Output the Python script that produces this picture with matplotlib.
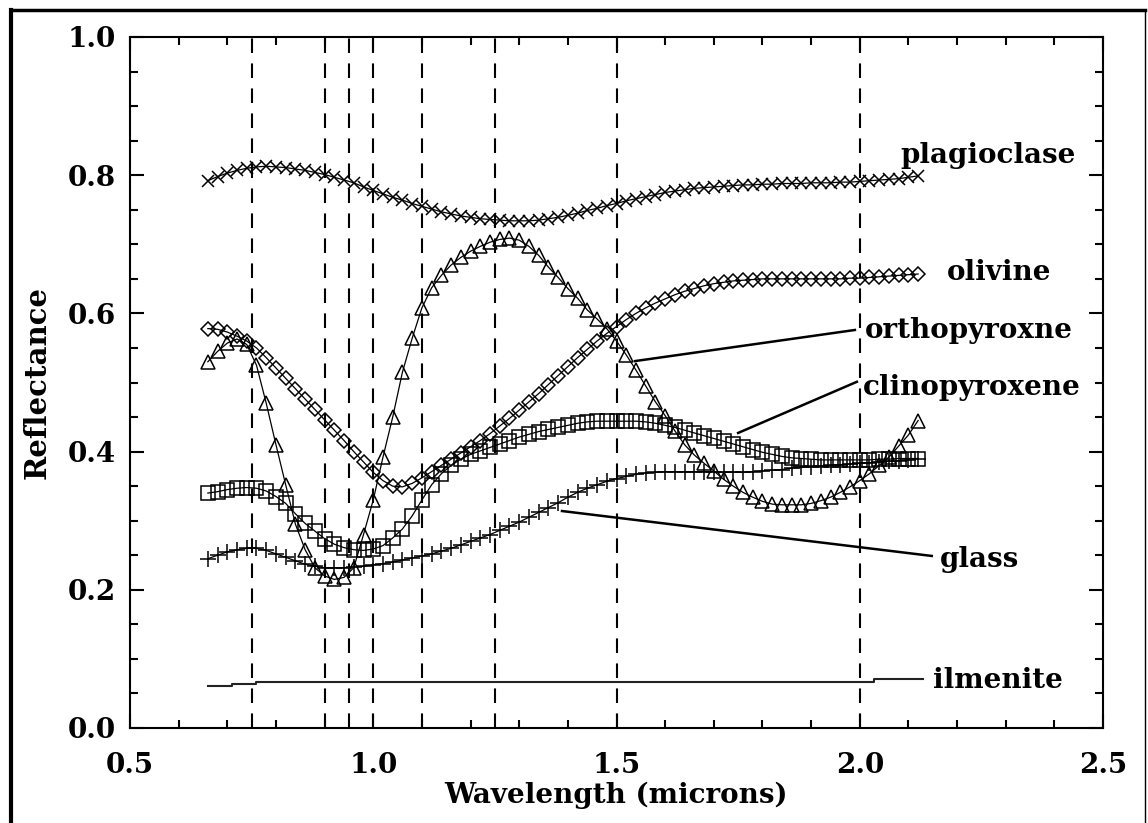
import numpy as np
import matplotlib
matplotlib.use("Agg")
import matplotlib.pyplot as plt
from matplotlib.lines import Line2D
from matplotlib.ticker import MultipleLocator

plt.rcParams['font.family'] = ['DejaVu Serif']
plt.rcParams['font.weight'] = 'bold'

# -----------------------------
# Data (0.02 micron spacing)
# -----------------------------
wavelength = np.round(np.linspace(0.66, 2.12, 74), 2)

plagioclase = [0.792, 0.798, 0.803, 0.807, 0.810, 0.812, 0.813, 0.812, 0.811, 0.809,
               0.807, 0.804, 0.801, 0.797, 0.793, 0.789, 0.783, 0.778, 0.773, 0.768,
               0.764, 0.759, 0.755, 0.751, 0.747, 0.744, 0.741, 0.739, 0.737, 0.736,
               0.735, 0.734, 0.734, 0.734, 0.735, 0.737, 0.739, 0.742, 0.745, 0.749,
               0.752, 0.756, 0.759, 0.763, 0.766, 0.769, 0.772, 0.775, 0.777, 0.779,
               0.781, 0.782, 0.783, 0.784, 0.785, 0.786, 0.786, 0.787, 0.787, 0.788,
               0.788, 0.788, 0.789, 0.789, 0.789, 0.790, 0.790, 0.791, 0.792, 0.793,
               0.794, 0.795, 0.797, 0.799]

olivine = [0.578, 0.577, 0.573, 0.567, 0.560, 0.550, 0.536, 0.521, 0.506, 0.491,
           0.476, 0.461, 0.446, 0.431, 0.416, 0.400, 0.385, 0.370, 0.358, 0.350,
           0.349, 0.354, 0.362, 0.371, 0.380, 0.389, 0.398, 0.407, 0.416, 0.426,
           0.437, 0.448, 0.460, 0.472, 0.484, 0.497, 0.510, 0.523, 0.536, 0.548,
           0.560, 0.571, 0.581, 0.591, 0.600, 0.608, 0.615, 0.621, 0.627, 0.632,
           0.636, 0.640, 0.643, 0.645, 0.647, 0.648, 0.649, 0.650, 0.650, 0.650,
           0.650, 0.650, 0.650, 0.650, 0.650, 0.650, 0.651, 0.651, 0.652, 0.653,
           0.654, 0.655, 0.656, 0.657]

orthopyroxene = [0.530, 0.545, 0.557, 0.563, 0.555, 0.525, 0.470, 0.410, 0.352, 0.295,
                 0.258, 0.232, 0.220, 0.215, 0.218, 0.232, 0.280, 0.330, 0.392, 0.450,
                 0.515, 0.564, 0.608, 0.637, 0.655, 0.670, 0.681, 0.690, 0.697, 0.703,
                 0.707, 0.709, 0.706, 0.697, 0.684, 0.667, 0.652, 0.636, 0.622, 0.605,
                 0.592, 0.578, 0.560, 0.540, 0.518, 0.495, 0.472, 0.452, 0.430, 0.410,
                 0.395, 0.383, 0.372, 0.360, 0.350, 0.341, 0.334, 0.328, 0.324, 0.323,
                 0.323, 0.323, 0.325, 0.329, 0.334, 0.341, 0.349, 0.358, 0.368, 0.380,
                 0.392, 0.408, 0.424, 0.445]

clinopyroxene = [0.340, 0.342, 0.345, 0.347, 0.348, 0.347, 0.343, 0.335, 0.325, 0.310,
                 0.296, 0.285, 0.274, 0.266, 0.261, 0.258, 0.257, 0.259, 0.264, 0.275,
                 0.288, 0.307, 0.330, 0.352, 0.368, 0.380, 0.389, 0.396, 0.401, 0.406,
                 0.411, 0.416, 0.421, 0.425, 0.429, 0.432, 0.435, 0.438, 0.441, 0.443,
                 0.444, 0.444, 0.444, 0.444, 0.444, 0.443, 0.441, 0.438, 0.435, 0.431,
                 0.427, 0.423, 0.419, 0.415, 0.411, 0.407, 0.403, 0.399, 0.396, 0.393,
                 0.391, 0.390, 0.389, 0.388, 0.388, 0.388, 0.388, 0.388, 0.388, 0.389,
                 0.389, 0.390, 0.390, 0.390]

glass = [0.245, 0.250, 0.255, 0.258, 0.260, 0.260, 0.257, 0.252, 0.247, 0.242,
         0.237, 0.234, 0.232, 0.232, 0.232, 0.233, 0.234, 0.236, 0.238, 0.240,
         0.243, 0.246, 0.249, 0.252, 0.256, 0.260, 0.265, 0.270, 0.275, 0.280,
         0.286, 0.292, 0.298, 0.305, 0.312, 0.319, 0.326, 0.334, 0.341, 0.347,
         0.352, 0.357, 0.361, 0.364, 0.367, 0.369, 0.370, 0.371, 0.371, 0.371,
         0.371, 0.371, 0.371, 0.370, 0.370, 0.370, 0.371, 0.372, 0.373, 0.374,
         0.376, 0.377, 0.378, 0.379, 0.380, 0.381, 0.382, 0.383, 0.384, 0.385,
         0.386, 0.387, 0.388, 0.390]

ilmenite_wl = [0.66, 0.71, 0.76, 2.03, 2.13]
ilmenite = [0.061, 0.064, 0.067, 0.0705, 0.0705]

band_centers = [0.75, 0.90, 0.95, 1.00, 1.10, 1.25, 1.50, 2.00]

# -----------------------------
# Figure and axes
# -----------------------------
fig = plt.figure(figsize=(11.48, 8.23), dpi=100)
ax = fig.add_axes([130 / 1148, 1 - 728 / 823, 973 / 1148, 691 / 823])

for xc in band_centers:
    ax.axvline(xc, color='k', lw=1.5, dashes=(7, 5), zorder=1)

mk = dict(color='k', lw=0.9, mfc='none', mec='k', mew=1.1, zorder=3)
ax.plot(wavelength, plagioclase, marker='x', ms=8, **mk)
ax.plot(wavelength, olivine, marker='D', ms=7, **mk)
ax.plot(wavelength, orthopyroxene, marker='^', ms=10, **mk)
ax.plot(wavelength, clinopyroxene, marker='s', ms=9.5, **mk)
ax.plot(wavelength, glass, marker='+', ms=12, **mk)
ax.plot(ilmenite_wl, ilmenite, color='#222222', lw=1.5, drawstyle='steps-post', zorder=3)

# labels and leader lines
lab = dict(fontsize=20, fontweight='bold', ha='left', va='baseline')
ax.text(2.083, 0.818, 'plagioclase', **lab)
ax.text(2.179, 0.648, 'olivine', **lab)
ax.text(2.011, 0.564, 'orthopyroxne', **lab)
ax.text(2.007, 0.482, 'clinopyroxene', **lab)
ax.text(2.165, 0.233, 'glass', **lab)
ax.text(2.151, 0.058, 'ilmenite', **lab)

ax.plot([1.538, 1.990], [0.531, 0.576], color='k', lw=1.8, zorder=4)
ax.plot([1.750, 1.994], [0.427, 0.501], color='k', lw=1.8, zorder=4)
ax.plot([1.388, 2.148], [0.314, 0.249], color='k', lw=1.8, zorder=4)

ax.set_xlim(0.5, 2.5)
ax.set_ylim(0.0, 1.0)
ax.xaxis.set_major_locator(MultipleLocator(0.5))
ax.xaxis.set_minor_locator(MultipleLocator(0.1))
ax.yaxis.set_major_locator(MultipleLocator(0.2))
ax.yaxis.set_minor_locator(MultipleLocator(0.05))
ax.xaxis.set_major_formatter(plt.FormatStrFormatter('%.1f'))
ax.yaxis.set_major_formatter(plt.FormatStrFormatter('%.1f'))

ax.tick_params(which='both', direction='in', top=True, right=True, width=1.5,
               labelsize=20)
ax.tick_params(which='major', length=10, pad=10)
ax.tick_params(axis='x', which='major', pad=17)
ax.tick_params(which='minor', length=6)
for s in ax.spines.values():
    s.set_linewidth(1.5)

ax.set_xlabel('Wavelength (microns)', fontsize=20, fontweight='bold', labelpad=2)
ax.set_ylabel('Reflectance', fontsize=21, fontweight='bold', labelpad=12)

# outer frame
W, H = 1148, 823
fig.add_artist(Line2D([11 / W, 11 / W], [0, 1 - 10 / H], color='k', lw=3,
                      transform=fig.transFigure))
fig.add_artist(Line2D([11 / W, 1145 / W], [1 - 10 / H, 1 - 10 / H], color='k', lw=2.5,
                      transform=fig.transFigure))
fig.add_artist(Line2D([1145 / W, 1145 / W], [0, 1 - 10 / H], color='k', lw=1,
                      transform=fig.transFigure))

fig.savefig('out.png', dpi=100)
